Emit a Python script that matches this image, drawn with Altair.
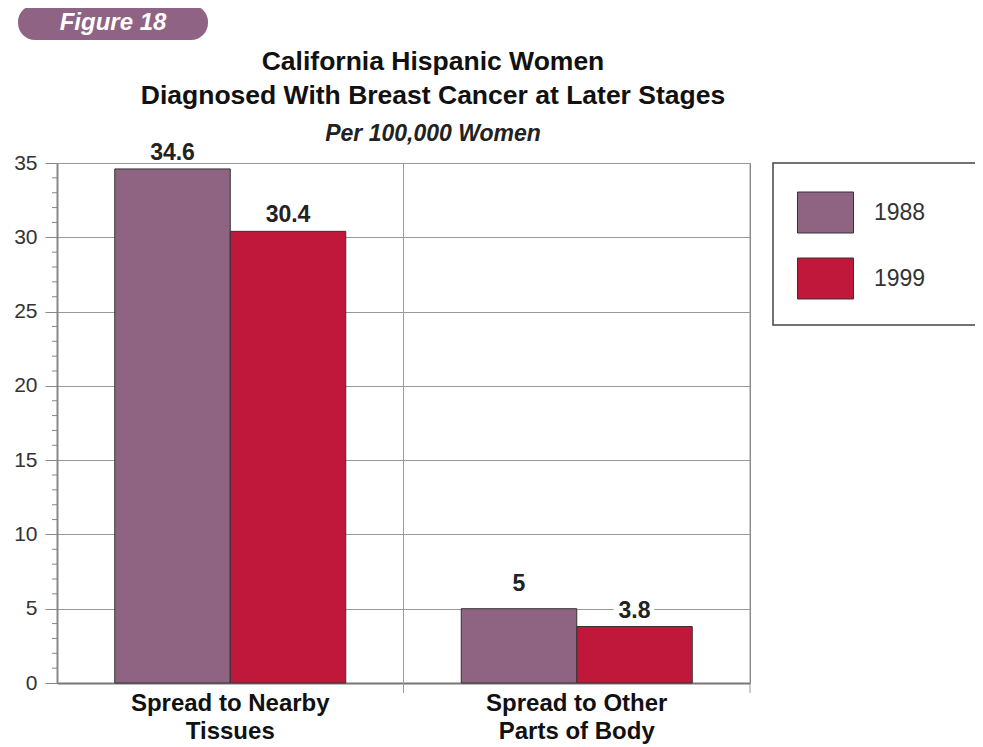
import altair as alt
import pandas as pd

# ---- data ----
categories = ["Spread to Nearby\nTissues", "Spread to Other\nParts of Body"]
years = ["1988", "1999"]
values_1988 = [34.6, 5.0]
values_1999 = [30.4, 3.8]
y_ticks = [0, 5, 10, 15, 20, 25, 30, 35]
minor_ticks = [1, 2, 3, 4, 6, 7, 8, 9, 11, 12, 13, 14, 16, 17, 18, 19,
               21, 22, 23, 24, 26, 27, 28, 29, 31, 32, 33, 34]
colors = ["#8E6482", "#C0183A"]
title_lines = ["California Hispanic Women", "Diagnosed With Breast Cancer at Later Stages"]
subtitle = ["Per 100,000 Women"]
figure_label = ["Figure 18"]

FONT = "Liberation Sans"

rows = []
for i, c in enumerate(categories):
    rows.append({"cat": c, "year": years[0], "value": values_1988[i]})
    rows.append({"cat": c, "year": years[1], "value": values_1999[i]})
df = pd.DataFrame(rows)
cat_df = pd.DataFrame({"cat": categories})
minor_df = pd.DataFrame({"v": minor_ticks})
fig_df = pd.DataFrame({"t": figure_label})
t1_df = pd.DataFrame({"t": [title_lines[0]]})
t2_df = pd.DataFrame({"t": [title_lines[1]]})
sub_df = pd.DataFrame({"t": subtitle})

W, H = 693, 520

x_enc = alt.X("cat:N", sort=categories,
              scale=alt.Scale(paddingInner=0, paddingOuter=0),
              axis=alt.Axis(title=None, ticks=False, grid=False, domainColor="#777",
                            domainWidth=2, labelAngle=0, labelAlign="center",
                            labelFontSize=24,
                            labelFontWeight="bold", labelColor="#111", labelFont=FONT,
                            labelLineHeight=28, labelPadding=20, labelLimit=0,
                            labelExpr="split(datum.label, '\\n')"))
xoff = alt.XOffset("year:N", sort=years,
                   scale=alt.Scale(paddingInner=0, paddingOuter=0.5))
y_scale = alt.Scale(domain=[0, 35], nice=False)
y_enc = alt.Y("value:Q", scale=y_scale,
              axis=alt.Axis(title=None, values=y_ticks, grid=True, gridColor="#999",
                            gridWidth=1, domainColor="#888", domainWidth=2,
                            tickColor="#888", tickSize=12, labelFontSize=21,
                            labelColor="#333", labelFont=FONT, labelPadding=8))

legend = alt.Legend(title=None, orient="none", legendX=719, legendY=0,
                    padding=21,
                    symbolType="M-1,-0.732L1,-0.732L1,0.732L-1,0.732Z",
                    symbolSize=3136, symbolStrokeColor="#333", symbolStrokeWidth=1,
                    symbolOpacity=1,
                    labelFontSize=23, labelFont=FONT, labelColor="#333",
                    labelOffset=20, rowPadding=15, labelLimit=0)

legend_box = alt.Chart(fig_df).mark_rect(fill="white", stroke="#444", strokeWidth=1.5).encode(
    x=alt.value(716), x2=alt.value(980), y=alt.value(0), y2=alt.value(162),
)

bars = alt.Chart(df).mark_bar(stroke="#333", strokeWidth=1).encode(
    x=x_enc, xOffset=xoff, y=y_enc,
    color=alt.Color("year:N", sort=years,
                    scale=alt.Scale(domain=years, range=colors), legend=legend),
)

divider = alt.Chart(cat_df).mark_rule(color="#999", strokeWidth=1).encode(
    x=alt.X("cat:N", sort=categories, bandPosition=1),
    y=alt.value(0), y2=alt.value(H + 10),
)

minor = alt.Chart(minor_df).mark_rule(color="#888", strokeWidth=1).encode(
    x=alt.value(-5), x2=alt.value(0),
    y=alt.Y("v:Q", scale=y_scale),
)

label_base = alt.Chart(df).encode(
    x=alt.X("cat:N", sort=categories), xOffset=xoff,
    y=alt.Y("value:Q", scale=y_scale),
    text=alt.Text("value:Q", format="~g"),
)
halo = label_base.mark_text(fontSize=23, fontWeight="bold", font=FONT, baseline="bottom",
                            dy=-4, stroke="white", strokeWidth=10, color="white"
                            ).transform_filter("datum.value < 5")
labels = label_base.mark_text(fontSize=23, fontWeight="bold", font=FONT, baseline="bottom",
                              dy=-4, color="#222").transform_filter("datum.value != 5")
label5 = label_base.mark_text(fontSize=23, fontWeight="bold", font=FONT, baseline="bottom",
                              dy=-13, color="#222").transform_filter("datum.value == 5")

pill = alt.Chart(fig_df).mark_rect(cornerRadius=17, color="#8E6384").encode(
    x=alt.value(-39), x2=alt.value(151), y=alt.value(-158), y2=alt.value(-123),
)
pill_text = alt.Chart(fig_df).mark_text(fontSize=24, fontWeight="bold", fontStyle="italic",
                                        font=FONT, color="white").encode(
    x=alt.value(56), y=alt.value(-140), text="t:N",
)

title1 = alt.Chart(t1_df).mark_text(fontSize=26.5, fontWeight="bold", font=FONT,
                                    color="#111").encode(
    x=alt.value(376), y=alt.value(-101), text="t:N")
title2 = alt.Chart(t2_df).mark_text(fontSize=26.5, fontWeight="bold", font=FONT,
                                    color="#111").encode(
    x=alt.value(376), y=alt.value(-67), text="t:N")
subt = alt.Chart(sub_df).mark_text(fontSize=23, fontWeight="bold", fontStyle="italic",
                                   font=FONT, color="#222").encode(
    x=alt.value(376), y=alt.value(-29), text="t:N")

chart = alt.layer(legend_box, divider, minor, bars, halo, labels, label5,
                  pill, pill_text, title1, title2, subt).properties(
    width=W, height=H,
    autosize=alt.AutoSizeParams(type="none"),
    padding={"left": 49, "top": 155, "right": 225, "bottom": 62},
).configure_view(stroke="#777", strokeWidth=1)

chart.save("out.html", embed_options={"renderer": "svg", "actions": False})
